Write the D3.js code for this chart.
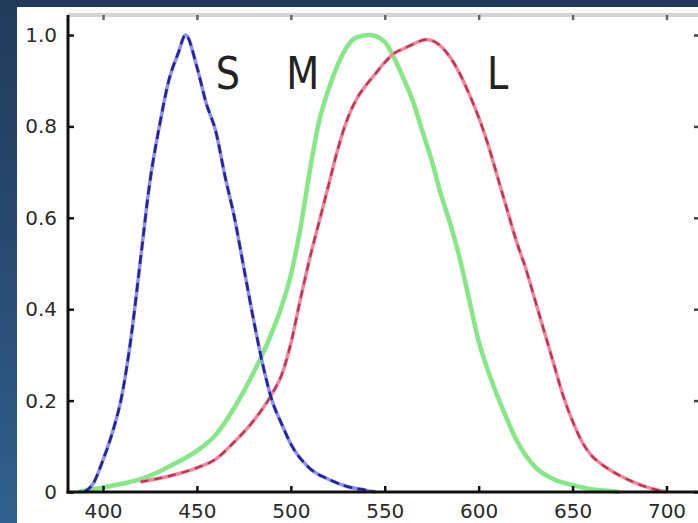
<!DOCTYPE html>
<html>
<head>
<meta charset="utf-8">
<script src="https://cdn.jsdelivr.net/npm/d3@7"></script>
<style>
  html, body { margin: 0; padding: 0; }
  body {
    width: 698px; height: 523px; overflow: hidden;
    background: linear-gradient(to bottom, #213a5a 0%, #28496f 45%, #30608f 100%);
  }
  svg { display: block; }
</style>
</head>
<body>
<svg id="chart" width="698" height="523"></svg>
<script>
// Cone spectral sensitivities (normalised), wavelength in nm
const sWavelengths = [390, 395, 400, 405, 410, 415, 420, 425, 430, 435, 440, 444, 450, 455, 460, 465, 470, 475, 480, 485, 490, 495, 500, 510, 520, 530, 540, 545];
const sValues      = [0.0, 0.02, 0.07, 0.13, 0.21, 0.34, 0.51, 0.68, 0.80, 0.90, 0.96, 1.0, 0.93, 0.85, 0.79, 0.69, 0.60, 0.49, 0.38, 0.28, 0.20, 0.15, 0.105, 0.052, 0.028, 0.012, 0.004, 0.0];

const mWavelengths = [387, 390, 400, 410, 420, 430, 440, 450, 460, 470, 480, 490, 495, 500, 505, 510, 515, 520, 525, 530, 535, 542, 550, 555, 560, 565, 570, 575, 580, 585, 590, 595, 600, 605, 610, 615, 620, 630, 640, 650, 660, 670, 675];
const mValues      = [0.0, 0.003, 0.01, 0.018, 0.028, 0.045, 0.066, 0.09, 0.125, 0.185, 0.26, 0.35, 0.405, 0.475, 0.575, 0.70, 0.81, 0.88, 0.935, 0.975, 0.995, 1.0, 0.985, 0.95, 0.905, 0.855, 0.79, 0.725, 0.65, 0.585, 0.51, 0.42, 0.33, 0.265, 0.21, 0.16, 0.115, 0.055, 0.028, 0.015, 0.006, 0.002, 0.0];

const lWavelengths = [420, 430, 440, 450, 460, 470, 480, 490, 495, 500, 505, 510, 515, 520, 525, 530, 535, 540, 545, 550, 555, 560, 565, 572, 580, 585, 590, 595, 600, 605, 610, 615, 620, 625, 630, 635, 640, 645, 650, 655, 660, 665, 670, 680, 690, 700];
const lValues      = [0.022, 0.03, 0.04, 0.053, 0.072, 0.11, 0.155, 0.215, 0.255, 0.325, 0.42, 0.51, 0.59, 0.67, 0.75, 0.815, 0.86, 0.89, 0.915, 0.94, 0.96, 0.97, 0.98, 0.99, 0.975, 0.95, 0.915, 0.87, 0.82, 0.76, 0.69, 0.62, 0.55, 0.49, 0.42, 0.35, 0.28, 0.21, 0.155, 0.11, 0.08, 0.062, 0.048, 0.026, 0.01, 0.0];

const xTicks = [400, 450, 500, 550, 600, 650, 700];
const yTicks = [0, 0.2, 0.4, 0.6, 0.8, 1.0];
const coneNames = ["S", "M", "L"];

const svg = d3.select("#chart");
const W = 698, H = 523;

// white panel
svg.append("rect").attr("x", 17).attr("y", 7)
  .attr("width", W - 17).attr("height", H - 7).attr("fill", "#ffffff");

const x = d3.scaleLinear().domain([400, 700]).range([103, 666.5]);
const y = d3.scaleLinear().domain([0, 1]).range([492, 35]);

const frameLeft = 68, frameRight = 700, frameTop = 15, frameBottom = 492;

// top frame (light)
svg.append("line").attr("x1", frameLeft).attr("x2", W).attr("y1", frameTop).attr("y2", frameTop)
  .attr("stroke", "#d4d4d4").attr("stroke-width", 4);

// top and right inward ticks
svg.append("g").attr("transform", `translate(0,${frameTop})`)
  .call(d3.axisTop(x).tickValues(xTicks).tickSize(-5).tickFormat(""))
  .call(g => g.select(".domain").remove())
  .call(g => g.selectAll(".tick line").attr("stroke", "#666").attr("stroke-width", 2.5));
svg.append("g").attr("transform", `translate(${frameRight},0)`)
  .call(d3.axisRight(y).tickValues(yTicks).tickSize(-6).tickFormat(""))
  .call(g => g.select(".domain").remove())
  .call(g => g.selectAll(".tick line").attr("stroke", "#444").attr("stroke-width", 2.5));

// curves
const line = d3.line().x(d => x(d[0])).y(d => y(d[1])).curve(d3.curveMonotoneX);
const mData = d3.zip(mWavelengths, mValues);
const lData = d3.zip(lWavelengths, lValues);
const sData = d3.zip(sWavelengths, sValues);

svg.append("path").attr("d", line(mData)).attr("fill", "none")
  .attr("stroke", "#84e884").attr("stroke-width", 4.5).attr("stroke-linejoin", "round");

svg.append("path").attr("d", line(lData)).attr("fill", "none")
  .attr("stroke", "#f4849c").attr("stroke-width", 3.5);
svg.append("path").attr("d", line(lData)).attr("fill", "none")
  .attr("stroke", "#c2304f").attr("stroke-width", 2.2).attr("stroke-dasharray", "8 6");

svg.append("path").attr("d", line(sData)).attr("fill", "none")
  .attr("stroke", "#8f8ff2").attr("stroke-width", 3.5);
svg.append("path").attr("d", line(sData)).attr("fill", "none")
  .attr("stroke", "#23239c").attr("stroke-width", 2.6).attr("stroke-dasharray", "9 5");

// left and bottom axes
const yAxis = svg.append("g").attr("transform", `translate(${frameLeft},0)`)
  .call(d3.axisLeft(y).tickValues(yTicks).tickSize(-6).tickPadding(11)
    .tickFormat(d => d === 0 ? "0" : d3.format(".1f")(d)));
yAxis.select(".domain").remove();
yAxis.selectAll(".tick line").attr("stroke", "#111").attr("stroke-width", 2.5);
yAxis.selectAll(".tick text").attr("font-family", "DejaVu Sans").attr("font-size", 20).attr("fill", "#2a2a2a");

const xAxis = svg.append("g").attr("transform", `translate(0,${frameBottom})`)
  .call(d3.axisBottom(x).tickValues(xTicks).tickSize(-6).tickPadding(12));
xAxis.select(".domain").remove();
xAxis.selectAll(".tick line").attr("stroke", "#111").attr("stroke-width", 2.5);
xAxis.selectAll(".tick text").attr("font-family", "DejaVu Sans").attr("font-size", 20).attr("fill", "#2a2a2a");

svg.append("line").attr("x1", frameLeft).attr("x2", frameLeft).attr("y1", frameTop).attr("y2", frameBottom + 1.5)
  .attr("stroke", "#111").attr("stroke-width", 3);
svg.append("line").attr("x1", frameLeft - 1.5).attr("x2", W).attr("y1", frameBottom).attr("y2", frameBottom)
  .attr("stroke", "#111").attr("stroke-width", 3);

// cone labels, placed in data coordinates
const labelSpots = [[460, 0.882], [497.5, 0.882], [604.5, 0.882]];
coneNames.forEach((name, i) => {
  const px = x(labelSpots[i][0]), py = y(labelSpots[i][1]);
  svg.append("text")
    .attr("transform", `translate(${px},${py}) scale(0.85,1)`)
    .attr("font-family", "DejaVu Sans").attr("font-size", 45)
    .attr("fill", "#222").text(name);
});
</script>
</body>
</html>
